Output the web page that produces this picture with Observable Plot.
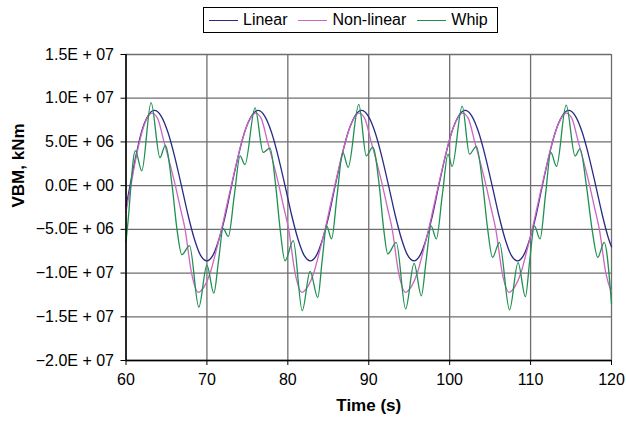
<!DOCTYPE html>
<html>
<head>
<meta charset="utf-8">
<script src="https://cdn.jsdelivr.net/npm/d3@7"></script>
<script src="https://cdn.jsdelivr.net/npm/@observablehq/plot@0.6"></script>
<style>
  html, body { margin: 0; padding: 0; background: #fff; }
  body { width: 626px; height: 421px; overflow: hidden; font-family: "Liberation Sans", Arial, sans-serif; }
  #legend { position: relative; height: 38px; }
  #legend .box { position: absolute; left: 203px; top: 7px; width: 295px; height: 26px; border: 1px solid #000; box-sizing: border-box;
    display: flex; align-items: center; font-size: 16px; color: #000; padding-left: 5px; white-space: nowrap; }
  #legend .item { display: flex; align-items: center; margin-right: 11px; flex-shrink: 0; white-space: nowrap; }
  #legend .item:last-child { margin-right: 0; }
  #legend .sw { display: inline-block; width: 29px; height: 0; border-top: 1.3px solid; margin-right: 5px; flex-shrink: 0; }
</style>
</head>
<body>
<div id="legend"></div>
<div id="chart"></div>
<script>
// ---- Data (values in millions of kNm) ----
const seriesNames = ["Linear", "Non-linear", "Whip"];
const seriesColors = ["#2a2a85", "#cc66c2", "#1f9050"];

const linearT = [60, 60.5, 61.2, 61.9, 62.7,
  63.5, 64.34, 65.18, 66.02, 66.85, 67.65, 68.45, 69.2, 70.0, 70.75, 71.5, 72.3, 73.05, 73.85, 74.65, 75.5,
  76.3, 77.14, 77.98, 78.82, 79.65, 80.45, 81.25, 82.0, 82.8, 83.55, 84.3, 85.1, 85.85, 86.65, 87.45, 88.3,
  89.1, 89.94, 90.78, 91.62, 92.45, 93.25, 94.05, 94.8, 95.6, 96.35, 97.1, 97.9, 98.65, 99.45, 100.25, 101.1,
  101.9, 102.74, 103.58, 104.42, 105.25, 106.05, 106.85, 107.6, 108.4, 109.15, 109.9, 110.7, 111.45, 112.25, 113.05, 113.9,
  114.7, 115.54, 116.38, 117.22, 118.05, 118.85, 119.65, 120];
const linearV = [-2.4, 0, 3.3, 6.1, 7.95,
  8.6, 7.95, 6.1, 3.3, 0, -3.3, -6.1, -7.95, -8.6, -7.95, -6.1, -3.3, 0, 3.3, 6.1, 7.95,
  8.6, 7.95, 6.1, 3.3, 0, -3.3, -6.1, -7.95, -8.6, -7.95, -6.1, -3.3, 0, 3.3, 6.1, 7.95,
  8.6, 7.95, 6.1, 3.3, 0, -3.3, -6.1, -7.95, -8.6, -7.95, -6.1, -3.3, 0, 3.3, 6.1, 7.95,
  8.6, 7.95, 6.1, 3.3, 0, -3.3, -6.1, -7.95, -8.6, -7.95, -6.1, -3.3, 0, 3.3, 6.1, 7.95,
  8.6, 7.95, 6.1, 3.3, 0, -3.3, -6.1, -7.0];

const nonlinT = [60, 60.6, 61.2, 61.8, 62.5,
  63.2, 63.9, 64.7, 65.4, 66.1, 66.7, 67.3, 68.1, 68.95, 69.7, 70.4, 71.1, 71.8, 72.4, 73.0, 73.65, 74.3, 75.1,
  76.0, 76.7, 77.5, 78.2, 78.9, 79.5, 80.1, 80.9, 81.75, 82.5, 83.2, 83.9, 84.6, 85.2, 85.8, 86.45, 87.1, 87.9,
  88.8, 89.5, 90.3, 91.0, 91.7, 92.3, 92.9, 93.7, 94.55, 95.3, 96.0, 96.7, 97.4, 98.0, 98.6, 99.25, 99.9, 100.7,
  101.6, 102.3, 103.1, 103.8, 104.5, 105.1, 105.7, 106.5, 107.35, 108.1, 108.8, 109.5, 110.2, 110.8, 111.4, 112.05, 112.7, 113.5,
  114.4, 115.1, 115.9, 116.6, 117.3, 117.9, 118.5, 119.3, 120];
const nonlinV = [-3.0, 0, 3.0, 5.5, 7.5,
  8.3, 7.7, 5.0, 2.6, 0, -2.5, -5.0, -10.0, -12.2, -11.5, -10.0, -7.6, -5.0, -2.5, 0, 2.6, 5.0, 7.2,
  8.3, 7.7, 5.0, 2.6, 0, -2.5, -5.0, -10.0, -12.2, -11.5, -10.0, -7.6, -5.0, -2.5, 0, 2.6, 5.0, 7.2,
  8.3, 7.7, 5.0, 2.6, 0, -2.5, -5.0, -10.0, -12.2, -11.5, -10.0, -7.6, -5.0, -2.5, 0, 2.6, 5.0, 7.2,
  8.3, 7.7, 5.0, 2.6, 0, -2.5, -5.0, -10.0, -12.2, -11.5, -10.0, -7.6, -5.0, -2.5, 0, 2.6, 5.0, 7.2,
  8.3, 7.7, 5.0, 2.6, 0, -2.5, -5.0, -10.0, -12.2];

const whipT = [60, 60.2, 61.15, 61.95, 63.1, 64.2, 64.85, 65.7, 66.3, 66.9, 67.85, 69.0, 70.0, 70.85, 71.45, 72.0, 72.65, 73.4, 74.1, 74.7,
  75.95, 76.95, 77.8, 78.5, 79.05, 79.65, 80.67, 81.78, 82.75, 83.7, 84.25, 84.8, 85.4, 86.1, 86.8, 87.45,
  88.77, 89.7, 90.5, 91.3, 91.85, 92.35, 93.4, 94.56, 95.6, 96.5, 97.1, 97.7, 98.35, 99.1, 99.8, 100.3,
  101.55, 102.45, 103.3, 104.1, 104.7, 105.3, 106.15, 107.4, 108.45, 109.36, 109.9, 110.47, 111.17, 111.85, 112.5, 113.2,
  114.4, 115.5, 116.1, 116.9, 117.6, 118.3, 119.1, 120];
const whipV = [-6.4, -4.6, 4.0, 1.7, 9.5, 3.2, 4.6, 0, -5.0, -7.9, -6.85, -13.9, -9.1, -12.3, -8.5, -4.9, -5.8, -1.0, 3.4, 2.4,
  8.9, 3.8, 4.3, 0, -5.0, -8.6, -6.3, -14.3, -9.8, -12.8, -8.5, -4.6, -6.1, -1.0, 3.8, 2.1,
  9.3, 3.4, 4.4, 0, -5.0, -7.8, -6.5, -14.1, -8.9, -12.6, -8.5, -4.6, -6.1, -1.0, 3.6, 2.2,
  9.1, 3.6, 4.5, 0, -5.0, -8.2, -6.5, -14.2, -8.8, -12.7, -8.5, -4.6, -6.1, -1.0, 3.8, 2.2,
  9.2, 3.4, 4.2, 0, -5.0, -8.2, -6.5, -13.5];

const xTicks = [60, 70, 80, 90, 100, 110, 120];
const yTicks = [-2.0e7, -1.5e7, -1.0e7, -5.0e6, 0, 5.0e6, 1.0e7, 1.5e7];

// ---- Build table ----
const toRows = (name, T, V) => T.map((t, i) => ({series: name, t, v: V[i] * 1e6}));
const rows = [
  ...toRows("Linear", linearT, linearV),
  ...toRows("Non-linear", nonlinT, nonlinV),
  ...toRows("Whip", whipT, whipV)
];

function sci(v) {
  const s = v.toExponential(1);
  const [m, e] = s.split("e");
  const ev = +e;
  const mm = m.startsWith("-") ? "\u2212" + m.slice(1) : m;
  return mm + "E " + (ev < 0 ? "\u2212" : "+") + " " + String(Math.abs(ev)).padStart(2, "0");
}

// ---- Legend (HTML) ----
const lg = document.createElement("div");
lg.className = "box";
seriesNames.forEach((n, i) => {
  const it = document.createElement("span");
  it.className = "item";
  const sw = document.createElement("span");
  sw.className = "sw";
  sw.style.borderTopColor = seriesColors[i];
  it.appendChild(sw);
  it.appendChild(document.createTextNode(n));
  lg.appendChild(it);
});
document.getElementById("legend").appendChild(lg);

// ---- Chart ----
const chart = Plot.plot({
  width: 626,
  height: 383,
  marginLeft: 125.5,
  marginRight: 15,
  marginTop: 16,
  marginBottom: 61,
  style: {fontFamily: "Liberation Sans, Arial, sans-serif", fontSize: "16px", color: "#000", background: "#fff", overflow: "visible"},
  x: {type: "linear", domain: [60, 120]},
  y: {type: "linear", domain: [-2.0e7, 1.5e7]},
  color: {domain: seriesNames, range: seriesColors},
  marks: [
    Plot.ruleY(yTicks, {stroke: "#6e6e6e", strokeWidth: 1.3}),
    Plot.ruleX(xTicks, {stroke: "#6e6e6e", strokeWidth: 1.3}),
    Plot.line(rows, {x: "t", y: "v", z: "series", stroke: "series", strokeWidth: 1.3, curve: "monotone-x"}),
    Plot.ruleX([60], {stroke: "#000", strokeWidth: 1.5}),
    Plot.ruleY([-2.0e7], {stroke: "#000", strokeWidth: 1.5}),
    Plot.axisY({ticks: yTicks, tickFormat: sci, tickSize: 5, tickPadding: 7, label: null, stroke: "#000", fontSize: 16}),
    Plot.axisX({ticks: xTicks, tickFormat: d => String(d), tickSize: 5, tickPadding: 8, label: null, stroke: "#000", fontSize: 16}),
    Plot.text(["VBM, kNm"], {frameAnchor: "left", rotate: -90, dx: -107, lineAnchor: "middle", fontWeight: "bold", fontSize: 17}),
    Plot.text(["Time (s)"], {frameAnchor: "bottom", dy: 45, lineAnchor: "middle", fontWeight: "bold", fontSize: 17})
  ]
});
document.getElementById("chart").appendChild(chart);
</script>
</body>
</html>
